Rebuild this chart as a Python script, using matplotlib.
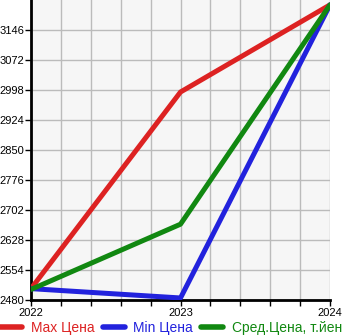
import matplotlib
matplotlib.use("Agg")
import matplotlib.pyplot as plt
from matplotlib.ticker import MultipleLocator

plt.rcParams['font.family'] = ['Liberation Sans', 'DejaVu Sans']

years = [2022, 2023, 2024]
max_price = [2508, 2993, 3208]
min_price = [2508, 2485, 3208]
avg_price = [2506, 2667, 3208]
y_ticks = [2480, 2554, 2628, 2702, 2776, 2850, 2924, 2998, 3072, 3146]
labels = ["Max Цена", "Min Цена", "Сред.Цена, т.йен"]
colors = ["#dd2222", "#2222dd", "#118811"]

fig = plt.figure(figsize=(3.45, 3.35), dpi=100)
ax = fig.add_axes([31/345, 35/335, 299/345, 300/335])
ax.set_facecolor("#f6f6f6")

for vals, lab, c in zip([max_price, min_price, avg_price], labels, colors):
    ax.plot(years, vals, color=c, lw=3.6, label=lab, solid_capstyle="round", zorder=3)

ax.set_xlim(2022, 2024)
ax.set_ylim(2480, 3220)
ax.set_yticks(y_ticks)
ax.set_xticks(years)
ax.xaxis.set_minor_locator(MultipleLocator(0.2))
ax.grid(True, which="major", color="#bbbbbb", lw=1)
ax.grid(True, which="minor", axis="x", color="#bbbbbb", lw=1)
ax.tick_params(axis="both", which="both", labelsize=8, length=4, width=1, direction="out", pad=1)
ax.tick_params(axis="x", which="major", pad=2)
for s in ["top", "right"]:
    ax.spines[s].set_visible(False)
ax.spines["left"].set_linewidth(2)
ax.spines["bottom"].set_linewidth(2)
ax.set_axisbelow(True)

leg = fig.legend(loc="lower left", bbox_to_anchor=(0.0, 0.0), ncol=3, frameon=False,
                 fontsize=10, handlelength=1.6, handletextpad=0.6, columnspacing=0.6,
                 borderaxespad=0, borderpad=0.0)
for t, c in zip(leg.get_texts(), colors):
    t.set_color(c)
for h in leg.legend_handles:
    h.set_linewidth(4)

fig.savefig("out.png", dpi=100)
